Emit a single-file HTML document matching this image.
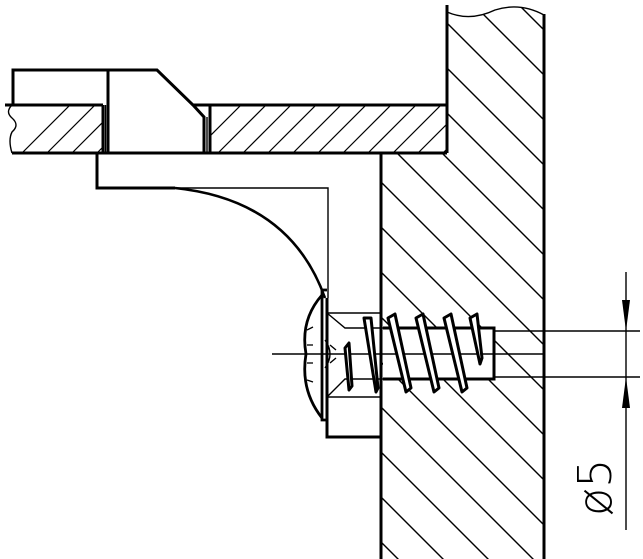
<!DOCTYPE html>
<html><head><meta charset="utf-8"><style>
html,body{margin:0;padding:0;background:#fff;width:643px;height:559px;overflow:hidden;}
svg{display:block;}
</style></head><body>
<svg width="643" height="559" viewBox="0 0 643 559" xmlns="http://www.w3.org/2000/svg">
<defs>
<clipPath id="wallclip">
<path d="M447,12 Q470,22 495,10 Q520,2 544,15 L544,559 L381,559 L381,153 L447,153 Z M383,328 L383,379 L494,379 L494,328 Z" clip-rule="evenodd"/>
</clipPath>
<clipPath id="plateclip">
<path d="M8,105 L103,105 L103,153 L12,153 Z M210,105 L447,105 L447,153 L210,153 Z"/>
</clipPath>
</defs>
<g clip-path="url(#wallclip)" stroke="#000" stroke-width="1.4">
<line x1="300" y1="-214" x2="700" y2="186"/>
<line x1="300" y1="-169" x2="700" y2="231"/>
<line x1="300" y1="-124" x2="700" y2="276"/>
<line x1="300" y1="-79" x2="700" y2="321"/>
<line x1="300" y1="-34" x2="700" y2="366"/>
<line x1="300" y1="11" x2="700" y2="411"/>
<line x1="300" y1="56" x2="700" y2="456"/>
<line x1="300" y1="101" x2="700" y2="501"/>
<line x1="300" y1="146" x2="700" y2="546"/>
<line x1="300" y1="191" x2="700" y2="591"/>
<line x1="300" y1="236" x2="700" y2="636"/>
<line x1="300" y1="281" x2="700" y2="681"/>
<line x1="300" y1="326" x2="700" y2="726"/>
<line x1="300" y1="371" x2="700" y2="771"/>
<line x1="300" y1="416" x2="700" y2="816"/>
<line x1="300" y1="461" x2="700" y2="861"/>
<line x1="300" y1="506" x2="700" y2="906"/>
</g>
<g clip-path="url(#plateclip)" stroke="#000" stroke-width="1.2">
<line x1="22" y1="153" x2="72" y2="103"/>
<line x1="47" y1="153" x2="97" y2="103"/>
<line x1="72" y1="153" x2="122" y2="103"/>
<line x1="97" y1="153" x2="147" y2="103"/>
<line x1="193" y1="153" x2="243" y2="103"/>
<line x1="218" y1="153" x2="268" y2="103"/>
<line x1="243" y1="153" x2="293" y2="103"/>
<line x1="268" y1="153" x2="318" y2="103"/>
<line x1="293" y1="153" x2="343" y2="103"/>
<line x1="318" y1="153" x2="368" y2="103"/>
<line x1="343" y1="153" x2="393" y2="103"/>
<line x1="368" y1="153" x2="418" y2="103"/>
<line x1="393" y1="153" x2="443" y2="103"/>
<line x1="418" y1="153" x2="468" y2="103"/>
<line x1="443" y1="153" x2="493" y2="103"/>
</g>
<g fill="none" stroke="#000" stroke-width="3" stroke-linejoin="miter">
<line x1="447" y1="5" x2="447" y2="153"/>
<line x1="544" y1="14" x2="544" y2="559"/>
<line x1="381" y1="153" x2="381" y2="559"/>
<line x1="5" y1="105" x2="103" y2="105"/>
<line x1="193" y1="105" x2="447" y2="105"/>
<line x1="12" y1="153" x2="447" y2="153"/>
<line x1="103" y1="105" x2="103" y2="153"/>
<line x1="210" y1="105" x2="210" y2="153"/>
<path d="M13,105 L13,70 L157,70 L193,105 L204,117 L204,153"/>
<line x1="108" y1="70" x2="108" y2="153"/>
<path d="M97,153 L97,188 L175,188"/>
<path d="M175,188 Q290,200 325,298" stroke-width="2.6"/>
<path d="M327,298 L327,437 L381,437"/>
<path d="M383,379 L494,379 L494,328 L383,328"/>
</g>
<g fill="none" stroke="#000" stroke-width="1.4">
<path d="M12,105 Q5,112 12,118 Q20,125 12,132 Q8,140 12,153"/>
<path d="M447,12 Q470,22 495,10 Q520,2 544,15"/>
<line x1="105.5" y1="105" x2="105.5" y2="153"/>
<line x1="207" y1="117" x2="207" y2="153"/>
<path d="M175,188 L328,188 L328,298"/>
<line x1="327" y1="313" x2="381" y2="313"/>
<line x1="327" y1="397" x2="381" y2="397"/>
<path d="M327,313 L345,328 L383,328"/>
<path d="M327,397 L345,379 L383,379"/>
<line x1="272" y1="354" x2="545" y2="354"/>
<line x1="494" y1="331" x2="640" y2="331"/>
<line x1="494" y1="377" x2="640" y2="377"/>
<line x1="626" y1="272" x2="626" y2="530"/>
<path d="M325,340 Q335,354 325,368"/>
<path d="M330,345 L336,350 M330,363 L336,358"/>
</g>
<g fill="none" stroke="#000" stroke-width="2.8">
<path d="M322,295 Q300,320 306,354 Q300,390 322,418"/>
<path d="M322,290 L322,420 L327,420"/>
<path d="M322,290 L327,290"/>
</g>
<g stroke="#000" stroke-width="1.3">
<line x1="307" y1="330" x2="313" y2="327"/>
<line x1="307" y1="345" x2="313" y2="345"/>
<line x1="307" y1="363" x2="313" y2="363"/>
<line x1="307" y1="380" x2="313" y2="382"/>
</g>
<g fill="#fff" stroke="#000" stroke-width="3" stroke-linejoin="round">
<polygon points="364,318 371,318 378,388 376,392"/>
<polygon points="345,348 349,343 352,386 349,390"/>
<polygon points="388,318 395,314 411,388 406,392"/>
<polygon points="416,318 423,314 439,388 434,392"/>
<polygon points="444,318 451,314 467,388 462,392"/>
<polygon points="470,318 477,314 482,358 480,364"/>
</g>
<polygon points="622,300 630,300 626,331" fill="#000"/>
<polygon points="622,408 630,408 626,377" fill="#000"/>
<text transform="translate(611,516) rotate(-90)" font-family="DejaVu Sans, Liberation Sans, sans-serif" font-weight="200" font-size="46" fill="#000">ø5</text>
</svg>
</body></html>
